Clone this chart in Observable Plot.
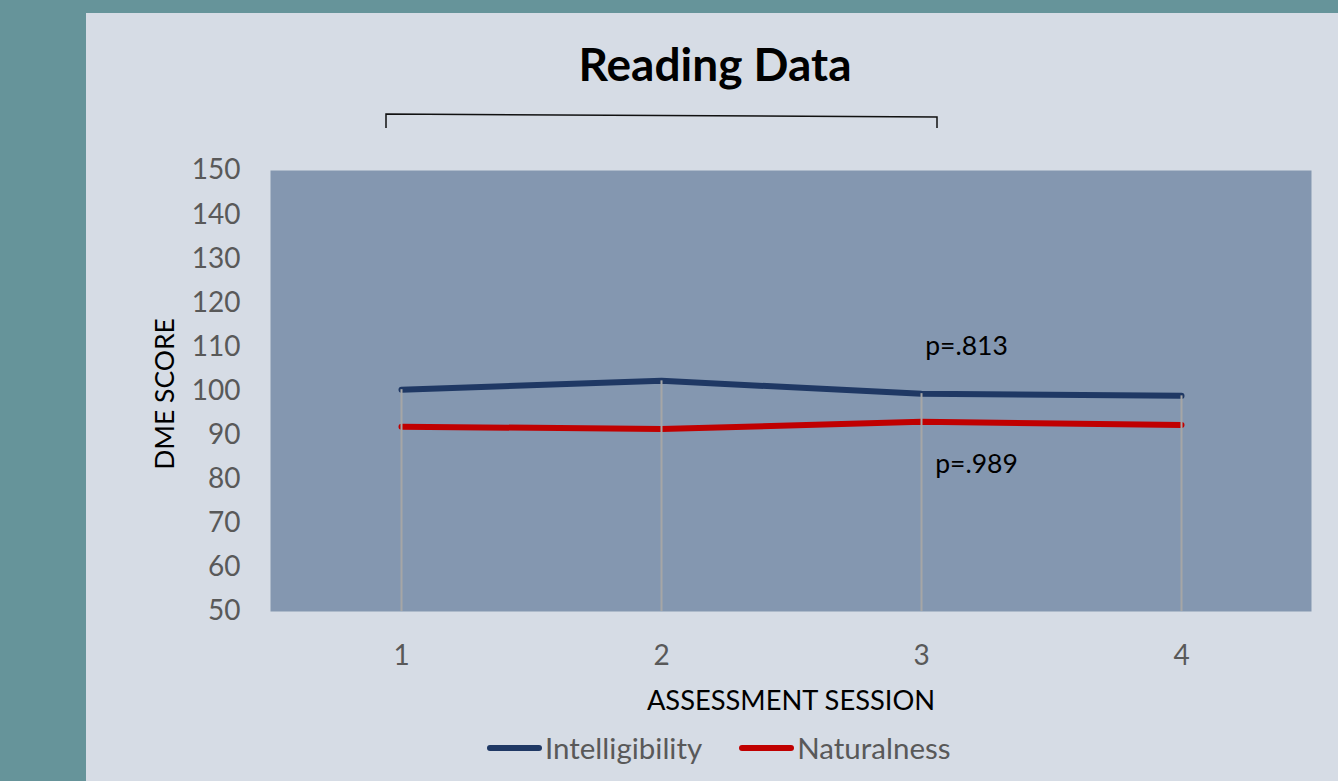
<!DOCTYPE html>
<html><head><meta charset="utf-8">
<script src="https://cdn.jsdelivr.net/npm/d3@7"></script>
<script src="https://cdn.jsdelivr.net/npm/@observablehq/plot@0.6"></script>
<style>
html,body{margin:0;padding:0;}
body{width:1338px;height:781px;background:#66949a;position:relative;overflow:hidden;font-family:Lato,"Open Sans",sans-serif;}
#panel{position:absolute;left:86px;top:13px;width:1252px;height:768px;background:#d6dce5;}
#chart{position:absolute;left:0;top:0;}
#title{position:absolute;left:415px;width:600px;top:36px;text-align:center;font-weight:bold;font-size:46px;color:#000;}
#bracket{position:absolute;left:0;top:0;}
#legend{position:absolute;left:487px;top:730px;display:flex;align-items:center;font-size:29.5px;color:#595959;}
.sw{display:inline-block;width:55px;height:6px;border-radius:3px;margin-right:3px;}
.item{display:flex;align-items:center;margin-right:37px;}
</style>
</head><body>
<div id="panel"></div>
<div id="chart"></div>
<div id="title">Reading Data</div>
<svg id="bracket" width="1338" height="781"><path d="M386,128 L386,114 L937,117 L937,128" fill="none" stroke="#111" stroke-width="1.5"/></svg>
<div id="legend"></div>
<script>
const sessions = [1, 2, 3, 4];
const intelligibility = [100.3, 102.3, 99.4, 98.9];
const naturalness = [91.9, 91.4, 93.0, 92.3];
const seriesNames = ["Intelligibility", "Naturalness"];
const seriesColors = ["#1f3864", "#c00000"];
const yTicks = [50, 60, 70, 80, 90, 100, 110, 120, 130, 140, 150];
const noteIntelligibility = [{session: 3, value: 110.2, label: "p=.813"}];
const noteNaturalness = [{session: 3, value: 83.4, label: "p=.989"}];

const rows = [];
sessions.forEach((s, i) => {
  rows.push({session: s, value: intelligibility[i], series: seriesNames[0]});
  rows.push({session: s, value: naturalness[i], series: seriesNames[1]});
});
const drops = sessions.map((s, i) => ({session: s, top: Math.max(intelligibility[i], naturalness[i])}));

const chart = Plot.plot({
  width: 1338,
  height: 781,
  marginLeft: 270,
  marginRight: 27,
  marginTop: 170,
  marginBottom: 170,
  style: {background: "transparent", fontFamily: "Lato, 'Open Sans', sans-serif", color: "#595959"},
  x: {type: "point", domain: sessions, padding: 0.5},
  y: {domain: [50, 150]},
  color: {domain: seriesNames, range: seriesColors},
  marks: [
    Plot.frame({fill: "#8497b0", stroke: null}),
    Plot.axisY({ticks: yTicks, tickSize: 0, tickPadding: 30, fontSize: 28, label: null}),
    Plot.axisX({tickSize: 0, tickPadding: 34, fontSize: 28, label: null}),
    Plot.text(["DME SCORE"], {frameAnchor: "left", textAnchor: "middle", rotate: -90, dx: -105, dy: 3, fontSize: 26.5, fill: "#000"}),
    Plot.text(["ASSESSMENT SESSION"], {frameAnchor: "bottom", dy: 98, fontSize: 27.3, fill: "#000"}),
    Plot.line(rows, {x: "session", y: "value", z: "series", stroke: "series", strokeWidth: 6, strokeLinecap: "round", strokeLinejoin: "round"}),
    Plot.ruleX(drops, {x: "session", y1: 50, y2: "top", stroke: "#a6a6a6", strokeWidth: 2}),
    Plot.text(noteIntelligibility, {x: "session", y: "value", dx: 45, text: "label", fontSize: 26.5, fill: "#000"}),
    Plot.text(noteNaturalness, {x: "session", y: "value", dx: 55, text: "label", fontSize: 26.5, fill: "#000"})
  ]
});
document.getElementById("chart").appendChild(chart);

const legend = document.getElementById("legend");
seriesNames.forEach((name, i) => {
  const item = document.createElement("div");
  item.className = "item";
  const sw = document.createElement("span");
  sw.className = "sw";
  sw.style.background = seriesColors[i];
  item.appendChild(sw);
  const t = document.createElement("span");
  t.textContent = name;
  item.appendChild(t);
  legend.appendChild(item);
});
</script>
</body></html>
